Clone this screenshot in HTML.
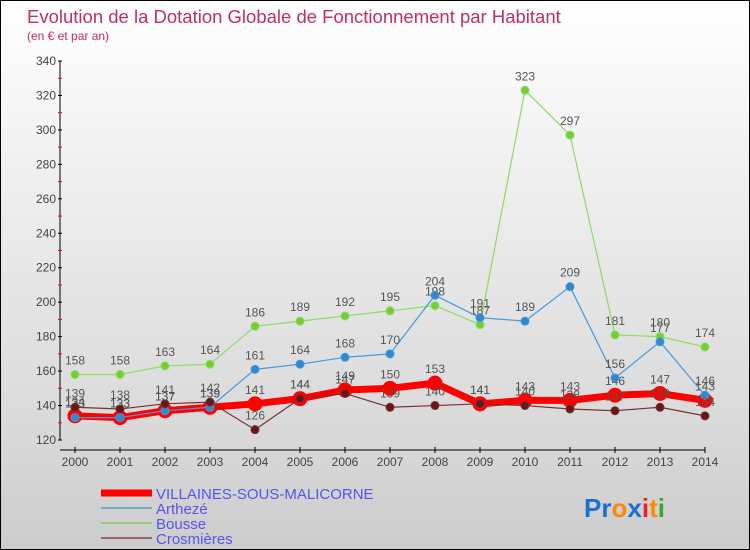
<!DOCTYPE html>
<html><head><meta charset="utf-8"><style>
body{margin:0}
#wrap{position:relative;width:748px;height:548px;border:1px solid #000;background:linear-gradient(#ffffff,#f0f0f0 30%,#d8d8d8 80%,#cccccc);overflow:hidden;font-family:"Liberation Sans",sans-serif}
</style></head><body>
<div id="wrap">
<svg id="chart" width="748" height="548"></svg>
</div>
<script>
const years=[2000,2001,2002,2003,2004,2005,2006,2007,2008,2009,2010,2011,2012,2013,2014];
const villaines=[134,133,137,139,141,144,149,150,153,141,143,143,146,147,143];
const artheze=[133,133,137,139,161,164,168,170,204,191,189,209,156,177,146];
const bousse=[158,158,163,164,186,189,192,195,198,187,323,297,181,180,174];
const crosmieres=[139,138,141,142,126,144,147,139,140,141,140,138,137,139,134];
const yTicks=[120,140,160,180,200,220,240,260,280,300,320,340];
const NS="http://www.w3.org/2000/svg";
const svg=document.getElementById('chart');
function X(i){return 74+i*45;}
function Y(v){return 439-(v-120)*(379/220);}
function el(t,a,p){const e=document.createElementNS(NS,t);for(const k in a)e.setAttribute(k,a[k]);(p||svg).appendChild(e);return e;}
let t=el('text',{x:26,y:22,fill:'#c0305f','font-size':18.5});t.textContent='Evolution de la Dotation Globale de Fonctionnement par Habitant';

t=el('text',{x:26,y:39,fill:'#c0305f','font-size':12});t.textContent='(en € et par an)';

let a=el('line',{x1:59,y1:Y(340),x2:59,y2:Y(120),stroke:'#000'});

a=el('line',{x1:59,y1:449,x2:X(14),y2:449,stroke:'#000'});

yTicks.forEach((v,i)=>{
  el('line',{x1:57,x2:61,y1:Y(v),y2:Y(v),stroke:'#000'});
  if(i<yTicks.length-1)el('line',{x1:57,x2:61,y1:Y(v+10),y2:Y(v+10),stroke:'#f00'});
  const l=el('text',{x:55,y:Y(v)+4,'text-anchor':'end','font-size':12,fill:'#444'});l.textContent=v;
  
});
years.forEach((y,i)=>{
  el('line',{x1:X(i),x2:X(i),y1:446,y2:452,stroke:'#000'});
  const l=el('text',{x:X(i),y:465,'text-anchor':'middle','font-size':12,fill:'#444'});l.textContent=y;
  
});
function series(data,color,dot,w,r,name){
  const g=el('g',{});
  
  el('polyline',{points:data.map((v,i)=>X(i)+','+Y(v)).join(' '),fill:'none',stroke:color,'stroke-width':w,'stroke-linejoin':'round'},g);
  data.forEach((v,i)=>{
    const c=el('circle',{cx:X(i),cy:Y(v),r:r,fill:dot,stroke:color,'stroke-width':1},g);
    
    const l=el('text',{x:X(i),y:Y(v)-10,'text-anchor':'middle','font-size':12,fill:'#555'},g);l.textContent=v;
    
  });
}
series(villaines,'#ff0000','#ff0000',7,7,'villaines');
series(bousse,'#88dd66','#77cc33',1.2,4,'bousse');
series(artheze,'#4499dd','#3388cc',1.2,4,'artheze');
series(crosmieres,'#773333','#661818',1.2,4,'crosmieres');
const leg=[['VILLAINES-SOUS-MALICORNE','#ff0000',7],['Arthezé','#77aacc',2],['Bousse','#99cc77',2],['Crosmières','#996666',2]];
leg.forEach((d,i)=>{
  const g=el('g',{});
  const y=492+i*15;
  el('line',{x1:100,x2:151,y1:y,y2:y,stroke:d[1],'stroke-width':d[2]},g);
  const l=el('text',{x:155,y:y+6,'font-size':15,fill:'#5555ee'},g);l.textContent=d[0];
});
const lg=el('text',{x:583,y:516,'font-size':26,'font-weight':'bold','font-family':'Liberation Sans, sans-serif'});

[['Pr','#1a6fd0'],['o','#ff8800'],['x','#1a6fd0'],['i','#ee2222'],['t','#ff8800'],['i','#33aa33']].forEach(p=>{const s=el('tspan',{fill:p[1]},lg);s.textContent=p[0];});
</script>
</body></html>
